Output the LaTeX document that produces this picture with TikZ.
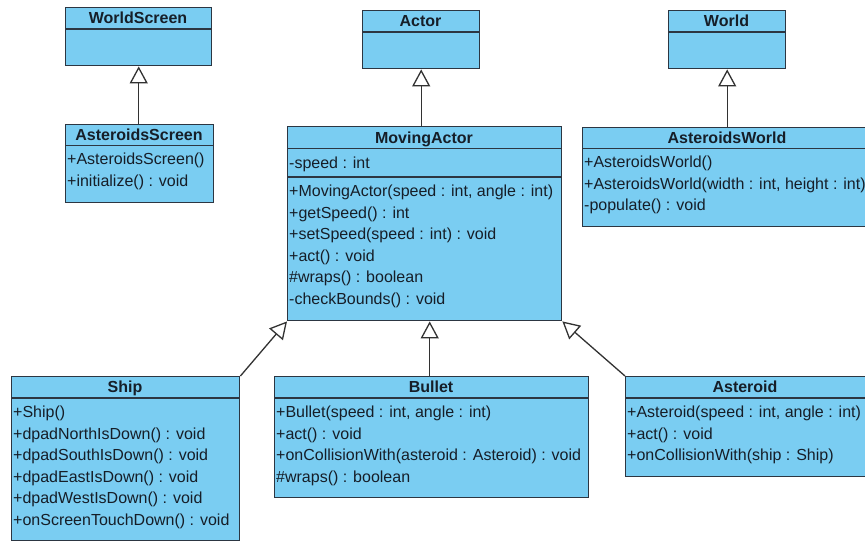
\documentclass[tikz,border=0pt]{standalone}
\usepackage{fontspec}
\setmainfont{Liberation Sans}
\usetikzlibrary{arrows.meta,calc}

\definecolor{clsfill}{RGB}{122,205,242}
\definecolor{clsline}{RGB}{44,54,66}
\definecolor{clstext}{RGB}{22,30,40}
\definecolor{linkcol}{RGB}{50,50,50}

\tikzset{
  cls/.style={draw=clsline, fill=clsfill, line width=1.4pt, rectangle,
              anchor=north west, inner sep=0pt},
  sepline/.style={draw=clsline, line width=1.4pt},
  title/.style={font=\fontsize{16}{18}\selectfont\bfseries, text=clstext,
                inner sep=0pt, anchor=base},
  member/.style={font=\fontsize{16}{18}\selectfont, text=clstext,
                 inner sep=0pt, anchor=base west},
  inh/.style={draw=linkcol, line width=1.3pt,
              -{Triangle[length=17pt,width=18pt,fill=white]}},
}

\begin{document}
\begin{tikzpicture}[x=1pt,y=-1pt]
\useasboundingbox (0,0) rectangle (865,542);
\clip (0,0) rectangle (865,542);
\fill[white] (0,0) rectangle (865,542);

% ---------- WorldScreen ----------
\node[cls, minimum width=146pt, minimum height=58pt] (wscreen) at (65,7) {};
\draw[sepline] (65,29) -- (211,29);
\node[title] (wscreenT) at (138,23.5) {WorldScreen};

% ---------- Actor ----------
\node[cls, minimum width=117pt, minimum height=58pt] (actor) at (362,10) {};
\draw[sepline] (362,32) -- (479,32);
\node[title] (actorT) at (420.5,26.5) {Actor};

% ---------- World ----------
\node[cls, minimum width=117pt, minimum height=58pt] (world) at (668,10) {};
\draw[sepline] (668,32) -- (785,32);
\node[title] (worldT) at (726.5,26.5) {World};

% ---------- AsteroidsScreen ----------
\node[cls, minimum width=148pt, minimum height=78pt] (ascreen) at (65,124) {};
\draw[sepline] (65,145.5) -- (213,145.5);
\node[title] (ascreenT) at (139,140.5) {AsteroidsScreen};
\node[member] (as1) at (67,164.5) {+AsteroidsScreen()};
\node[member] (as2) at (67,186.1) {+initialize() : void};

% ---------- MovingActor ----------
\node[cls, minimum width=274pt, minimum height=194pt] (moving) at (287,126) {};
\draw[sepline] (287,148.5) -- (561,148.5);
\draw[sepline] (287,177) -- (561,177);
\node[title] (movingT) at (424,143) {MovingActor};
\node[member] (ma0) at (289,168.5) {-speed : int};
\node[member] (ma1) at (289,196.5) {+MovingActor(speed : int, angle : int)};
\node[member] (ma2) at (289,218.1) {+getSpeed() : int};
\node[member] (ma3) at (289,239.7) {+setSpeed(speed : int) : void};
\node[member] (ma4) at (289,261.3) {+act() : void};
\node[member] (ma5) at (289,282.9) {\#wraps() : boolean};
\node[member] (ma6) at (289,304.5) {-checkBounds() : void};

% ---------- AsteroidsWorld ----------
\node[cls, minimum width=300pt, minimum height=99pt] (aworld) at (582,127) {};
\draw[sepline] (582,148.5) -- (882,148.5);
\node[title] (aworldT) at (727,143) {AsteroidsWorld};
\node[member] (aw1) at (584,167.5) {+AsteroidsWorld()};
\node[member] (aw2) at (584,189.1) {+AsteroidsWorld(width : int, height : int)};
\node[member] (aw3) at (584,210.7) {-populate() : void};

% ---------- Ship ----------
\node[cls, minimum width=228pt, minimum height=164pt] (ship) at (11,376) {};
\draw[sepline] (11,398) -- (239,398);
\node[title] (shipT) at (125,392.5) {Ship};
\node[member] (sh1) at (13,417.5) {+Ship()};
\node[member] (sh2) at (13,439.1) {+dpadNorthIsDown() : void};
\node[member] (sh3) at (13,460.7) {+dpadSouthIsDown() : void};
\node[member] (sh4) at (13,482.3) {+dpadEastIsDown() : void};
\node[member] (sh5) at (13,503.9) {+dpadWestIsDown() : void};
\node[member] (sh6) at (13,525.5) {+onScreenTouchDown() : void};

% ---------- Bullet ----------
\node[cls, minimum width=314pt, minimum height=121pt] (bullet) at (274,376) {};
\draw[sepline] (274,398) -- (588,398);
\node[title] (bulletT) at (431,392.5) {Bullet};
\node[member] (bu1) at (276,417.5) {+Bullet(speed : int, angle : int)};
\node[member] (bu2) at (276,439.1) {+act() : void};
\node[member] (bu3) at (276,460.7) {+onCollisionWith(asteroid : Asteroid) : void};
\node[member] (bu4) at (276,482.3) {\#wraps() : boolean};

% ---------- Asteroid ----------
\node[cls, minimum width=257pt, minimum height=100pt] (asteroid) at (625,376) {};
\draw[sepline] (625,398) -- (882,398);
\node[title] (asteroidT) at (745,392.5) {Asteroid};
\node[member] (at1) at (627,417.5) {+Asteroid(speed : int, angle : int)};
\node[member] (at2) at (627,439.1) {+act() : void};
\node[member] (at3) at (627,460.7) {+onCollisionWith(ship : Ship)};

% ---------- generalisations ----------
\draw[inh] (wscreen.south |- ascreen.north) -- (wscreen.south);
\draw[inh] (actor.south |- moving.north) -- (actor.south);
\draw[inh] (world.south |- aworld.north) -- (world.south);
\draw[inh] (ship.north east) -- (moving.south west);
\draw[inh] ([xshift=-2pt]bullet.north) -- ([xshift=-2pt]bullet.north |- moving.south);
\draw[inh] (asteroid.north west) -- (moving.south east);
\end{tikzpicture}
\end{document}
